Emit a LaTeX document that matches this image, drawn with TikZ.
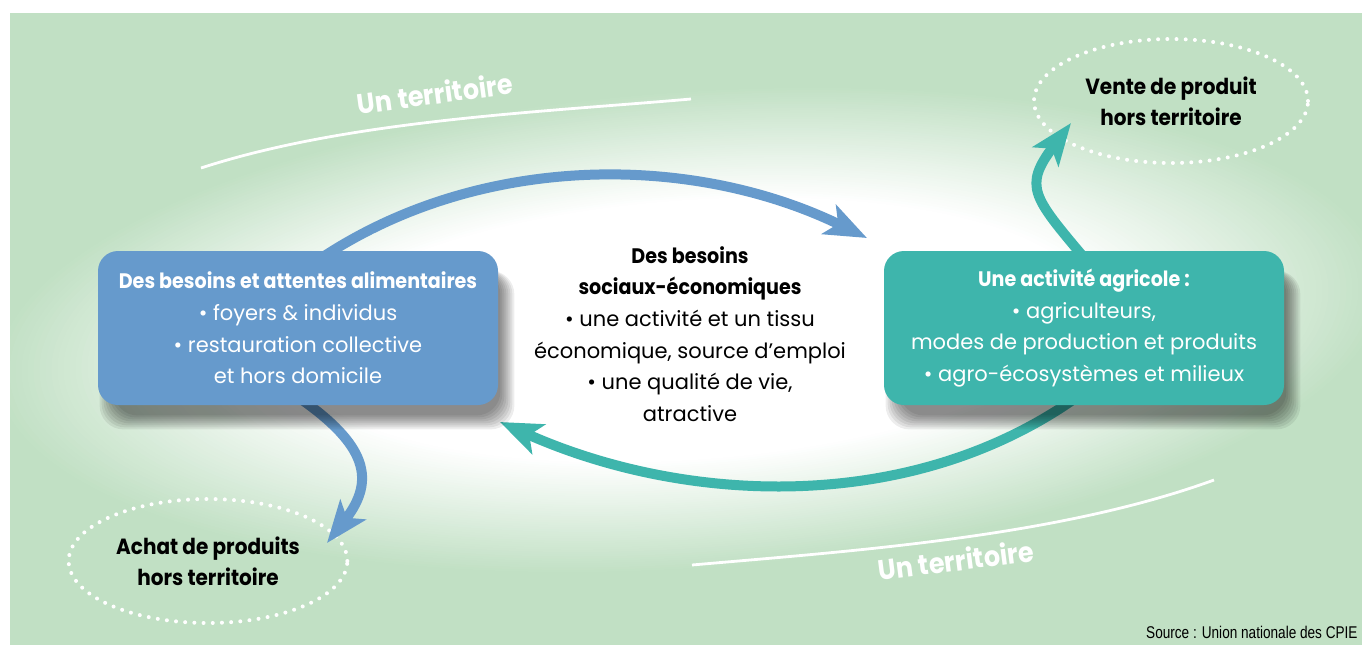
\documentclass[tikz,border=0pt]{standalone}
\usepackage{fontspec}
\setmainfont{Poppins}[BoldFeatures={FakeStretch=0.91}]
\newfontfamily\sourcefont{Liberation Sans}[FakeStretch=0.8]
\usetikzlibrary{
arrows.meta,
shapes.geometric
}
\definecolor{bggreen}{RGB}{193,224,196}
\definecolor{boxblue}{RGB}{102,154,204}
\definecolor{boxteal}{RGB}{62,181,172}
\pgfdeclarelayer{ground}
\pgfdeclarelayer{arcs}
\pgfdeclarelayer{shade}
\pgfsetlayers{ground,arcs,shade,main}

\begin{document}
\begin{tikzpicture}[x=0.5pt, y=-0.5pt,
    every node/.style={font=\fontsize{10.5}{15.8}\selectfont},
    box/.style={rounded corners=10pt, minimum width=200pt, minimum height=77pt, text=white, align=center},
    outside/.style={shape=ellipse, draw=white, line width=2pt, dash pattern=on 0pt off 4.6pt, line cap=round,
      minimum width=137pt, minimum height=62pt, align=center, font=\bfseries\fontsize{11}{15.5}\selectfont},
    bluearc/.style={draw=boxblue, line width=5pt, -{Stealth[length=21pt,width=16pt,inset=5pt]}},
    tealarc/.style={bluearc, draw=boxteal},
    border/.style={white, line width=1.4pt},
    territory/.style={text=white, font=\bfseries\fontsize{14}{15}\selectfont}]
    \useasboundingbox (0,0) rectangle (1362,645);
    % the three boxes of the cycle
    \node[box, fill=boxblue] (food) at (298,328) {\textbf{Des besoins et attentes alimentaires}\\• foyers \& individus\\• restauration collective\\et hors domicile};
    \node[box, fill=boxteal] (agri) at (1084,328) {\textbf{Une activité agricole :}\\• agriculteurs,\\modes de production et produits\\• agro-écosystèmes et milieux};
    \node[align=center] (needs) at (690,334) {\textbf{Des besoins}\\\textbf{sociaux-économiques}\\• une activité et un tissu\\économique, source d’emploi\\• une qualité de vie,\\atractive};
    \node[anchor=south east, inner sep=0pt, font=\sourcefont\fontsize{8.5}{9}\selectfont] (source) at (1358,639) {Source : Union nationale des CPIE};
    % soft shadows under the boxes
    \begin{pgfonlayer}{shade}
      \foreach \i in {0,...,7} {
        \fill[black, opacity=0.07, rounded corners=12pt] ([shift={({2+2*\i},{24-2*\i})}] food.south west) rectangle ([shift={({16-2*\i},20)}] food.north east);
        \fill[black, opacity=0.07, rounded corners=12pt] ([shift={({2+2*\i},{24-2*\i})}] agri.south west) rectangle ([shift={({16-2*\i},20)}] agri.north east);
      }
    \end{pgfonlayer}
    % background, glow and territory
    \begin{pgfonlayer}{ground}
      \fill[white] (0,0) rectangle (1362,645);
      \begin{scope}
        \clip (10,13) rectangle (1362,645);
        \fill[bggreen] (10,13) rectangle (1362,645);
        \foreach \i [evaluate=\i as \w using 2*\i] in {1,...,50}
          \fill[white!\w!bggreen, rotate around={4:(690,330)}] (690,330) ellipse [x radius={700-6*\i}, y radius={240-2.2*\i}];
      \end{scope}
      \draw[border] (201,168) to [out=18,in=185,looseness=0.8] (691,99);
      \draw[border] (692,565) to [out=5,in=200,looseness=0.8] (1214,480);
      \node[territory, rotate=7.7] (ttop) at (435,93) {Un territoire};
      \node[territory, rotate=7.3] (tbottom) at (956,560) {Un territoire};
      \node[outside] (vente) at (1171,101) {Vente de produit\\hors territoire};
      \node[outside] (achat) at (208,561) {Achat de produits\\hors territoire};
    \end{pgfonlayer}
    % flows
    \coordinate (toptip) at (867,238);
    \coordinate (bottomtip) at (500,422);
    \coordinate (achattip) at (327,543);
    \coordinate (ventetip) at (1071,123);
    \begin{pgfonlayer}{arcs}
      \draw[bluearc] ([xshift=13.5pt,yshift=-2.5pt] food.north) to [out=33,in=154,looseness=0.9] (toptip);
      \draw[tealarc] ([xshift=-4.5pt,yshift=3.5pt] agri.south) to [out=215,in=336,looseness=0.9] (bottomtip);
      \draw[bluearc] ([xshift=1pt,yshift=3.5pt] food.south) to [out=-35,in=52,looseness=1.4] (achattip);
      \draw[tealarc] ([yshift=-3.5pt] agri.north) to [out=130,in=233,looseness=1.5] (ventetip);
    \end{pgfonlayer}
\end{tikzpicture}
\end{document}
